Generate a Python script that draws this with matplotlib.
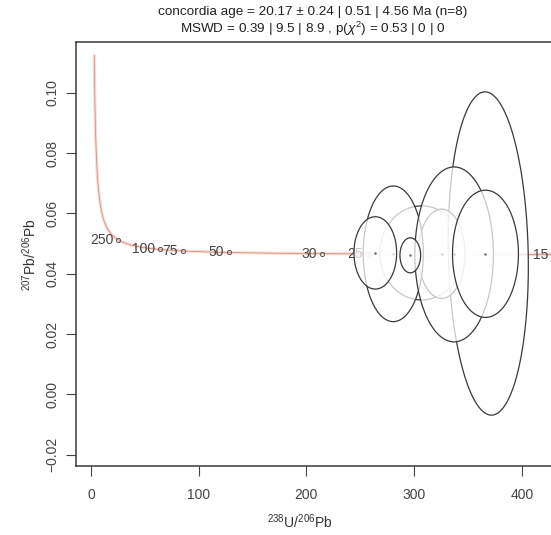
import numpy as np
import matplotlib
matplotlib.use("Agg")
import matplotlib.pyplot as plt
from matplotlib.patches import Polygon

plt.rcParams['font.family'] = ['Liberation Sans', 'DejaVu Sans']
plt.rcParams['mathtext.fontset'] = 'custom'
plt.rcParams['mathtext.rm'] = 'Liberation Sans'
plt.rcParams['mathtext.it'] = 'Liberation Sans:italic'

# ---- data ----
# aliquot ellipses: 238U/206Pb, 1-sigma, 207Pb/206Pb, 1-sigma, correlation
U238Pb206 = [307.0, 368.9, 325.6, 280.7, 337.2, 264.0, 366.3, 296.5]
s_U238Pb206 = [15.8, 15.2, 8.86, 11.4, 14.9, 8.09, 12.5, 3.92]
Pb207Pb206 = [0.0469, 0.0467, 0.0466, 0.0466, 0.0464, 0.0469, 0.0466, 0.0461]
s_Pb207Pb206 = [0.00637, 0.0219, 0.00605, 0.00919, 0.01185, 0.00490, 0.00862, 0.00237]
rho = [0.0, -0.08, 0.0, 0.0, 0.0, 0.0, 0.0, 0.0]

# concordia age ticks (Ma)
tick_ages = [250, 100, 75, 50, 30, 25, 20, 15]
age_min, age_max = 13.0, 1840.0

# decay constants (1/Ma) and U ratio
lambda238 = 0.000155125
lambda235 = 0.00098485
U238U235 = 137.818

title_lines = ["concordia age = 20.17 \u00b1 0.24 | 0.51 | 4.56 Ma (n=8)",
               r"MSWD = 0.39 | 9.5 | 8.9 , p($\chi^2$) = 0.53 | 0 | 0"]
x_ticks = [0, 100, 200, 300, 400]
y_ticks = [-0.02, 0.00, 0.02, 0.04, 0.06, 0.08, 0.10]
y_ticklabels = ['\u22120.02', '0.00', '0.02', '0.04', '0.06', '0.08', '0.10']

conf = np.sqrt(-2 * np.log(0.05))  # 95% ellipse


def tw(t):
    e8 = np.exp(lambda238 * t) - 1
    e5 = np.exp(lambda235 * t) - 1
    return 1.0 / e8, e5 / e8 / U238U235


fig = plt.figure(figsize=(5.51, 5.35), dpi=100)
W, H = 551, 535
ax = fig.add_axes([75.7 / W, 1 - 466 / H, (556 - 75.7) / W, (466 - 42) / H])
ax.set_xlim(-14.2, 431.8)
ax.set_ylim(-0.02378, 0.11685)

# concordia line
tt = np.geomspace(age_min, age_max, 800)
cx, cy = tw(tt)
ax.plot(cx, cy, color='#f3dcd6', lw=2.2, solid_capstyle='butt', zorder=1)
ax.plot(cx, cy, color='#d98371', lw=0.5, zorder=2)

# age ticks
for a in tick_ages:
    px, py = tw(a)
    ax.plot(px, py, 'o', ms=3.0, mfc='none', mec='#555555', mew=0.7, zorder=3)
    ax.annotate(str(a), (px, py), xytext=(-3.5, 0), textcoords='offset points',
                ha='right', va='center', fontsize=10, color='#444444', zorder=3)

# ellipses (later fills fade earlier outlines)
th = np.linspace(0, 2 * np.pi, 200)
for i in range(len(U238Pb206)):
    cov = np.array([[s_U238Pb206[i] ** 2, rho[i] * s_U238Pb206[i] * s_Pb207Pb206[i]],
                    [rho[i] * s_U238Pb206[i] * s_Pb207Pb206[i], s_Pb207Pb206[i] ** 2]])
    L = np.linalg.cholesky(cov)
    pts = (L @ np.vstack([np.cos(th), np.sin(th)])) * conf
    xy = np.column_stack([pts[0] + U238Pb206[i], pts[1] + Pb207Pb206[i]])
    z = 4 + i
    ax.add_patch(Polygon(xy, closed=True, facecolor=(1, 1, 1, 0.72), edgecolor='none', zorder=z))
    ax.add_patch(Polygon(xy, closed=True, facecolor='none', edgecolor='#3a3a3a', lw=0.9, zorder=z + 0.5))
    ax.plot(U238Pb206[i], Pb207Pb206[i], '.', ms=1.5, color='#666666', zorder=z + 0.5)

ax.set_xticks(x_ticks)
ax.set_yticks(y_ticks)
ax.set_yticklabels(y_ticklabels, rotation=90, va='center')
ax.tick_params(direction='out', length=7, width=0.8, color='#444444', labelsize=10,
               labelcolor='#444444')
ax.tick_params(axis='x', pad=9)
ax.tick_params(axis='y', pad=4.5)
for s in ax.spines.values():
    s.set_linewidth(1.1)
    s.set_color('#3a3a3a')

fig.text(30 / W, 1 - 255 / H, r'$^{207}$Pb/$^{206}$Pb', rotation=90, ha='center', va='center',
         fontsize=10, color='#333333')
fig.text(300 / W, 1 - 522 / H, r'$^{238}$U/$^{206}$Pb', ha='center', va='center',
         fontsize=10, color='#333333')
fig.text(313 / W, 1 - 12 / H, title_lines[0], ha='center', va='center', fontsize=9.7, color='#222222')
fig.text(313 / W, 1 - 29 / H, title_lines[1], ha='center', va='center', fontsize=9.7, color='#222222')

fig.savefig('out.png', dpi=100)
